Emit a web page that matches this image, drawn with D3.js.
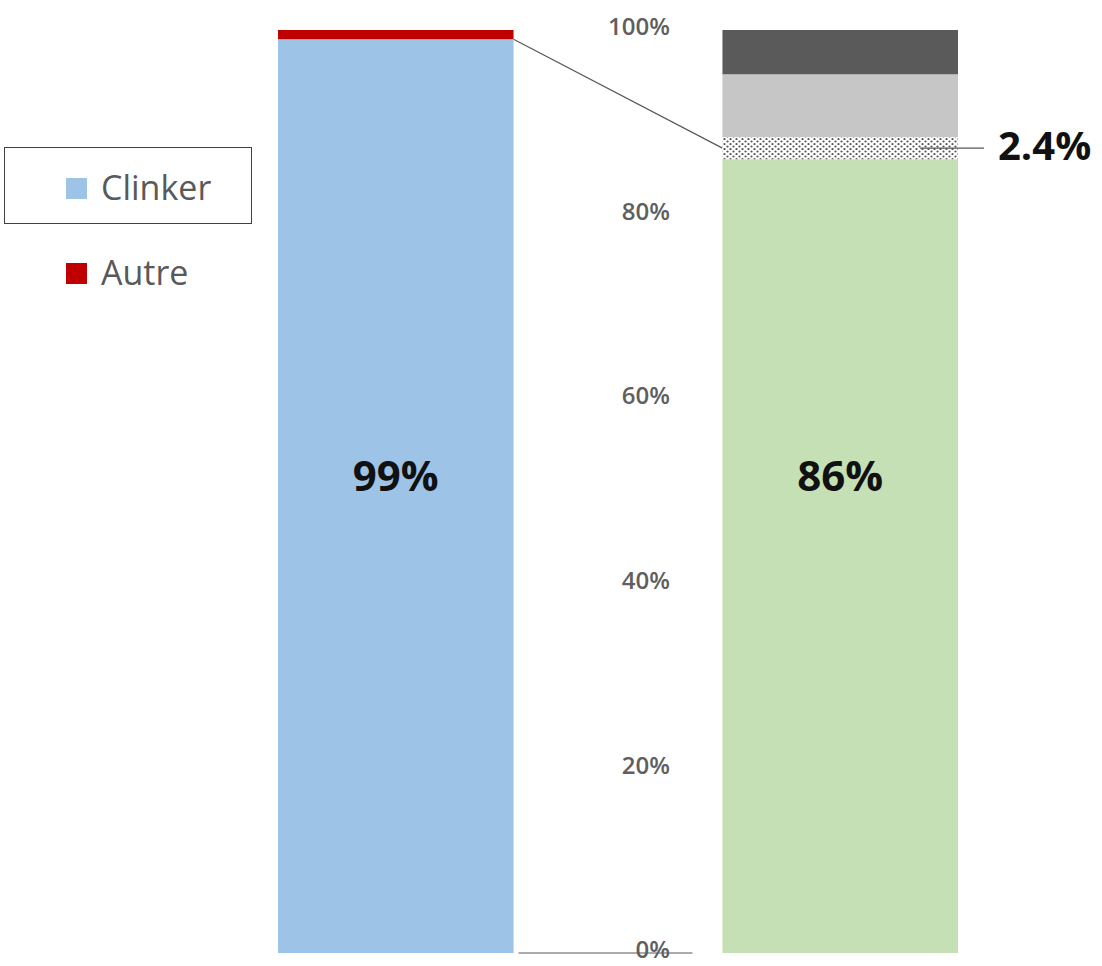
<!DOCTYPE html>
<html>
  <head>
    <meta charset="utf-8">
    <title>Clinker</title>
    <script src="https://cdn.jsdelivr.net/npm/d3@7"></script>
    <style>
      body { margin: 0; background: #fff; }
      text { font-family: "Open Sans", sans-serif; }
      .tick text { font-size: 24px; font-weight: 600; fill: #5f5f5f; }
      .legend text { font-size: 34px; fill: #595959; }
      .barLabel { font-size: 42px; font-weight: bold; fill: #111; }
    </style>
  </head>
  <body>
    <svg id="chart" width="1102" height="966"></svg>
    <script>
      // data
      var bars = ["Ciment A", "Ciment B"];
      var leftNames = ["Clinker", "Autre"];
      var leftValues = [99, 1];
      var rightNames = ["Clinker", "Autre", "Ajout 1", "Ajout 2"];
      var rightValues = [86, 2.4, 6.8, 4.8];
      var yTicks = [0, 20, 40, 60, 80, 100];
      var legendNames = ["Clinker", "Autre"];

      var svg = d3.select("#chart");
      var defs = svg.append("defs");
      var dots = defs.append("pattern")
        .attr("id", "dots")
        .attr("width", 6).attr("height", 5)
        .attr("patternUnits", "userSpaceOnUse");
      dots.append("rect").attr("width", 6).attr("height", 5).attr("fill", "#fff");
      dots.append("circle").attr("cx", 1.5).attr("cy", 1.5).attr("r", 1.1).attr("fill", "#555");
      dots.append("circle").attr("cx", 4.5).attr("cy", 4).attr("r", 1.1).attr("fill", "#555");

      var colors = {
        "Ciment A": ["#9dc3e6", "#c00000"],
        "Ciment B": ["#c5e0b4", "url(#dots)", "#c6c6c6", "#5a5a5a"]
      };

      var x = d3.scaleBand().domain(bars).range([278, 958]).paddingInner(0.47);
      var y = d3.scaleLinear().domain([0, 100]).range([953, 30]);

      function stackUp(names, values) {
        var acc = 0;
        return values.map(function(v, i) {
          var d = { name: names[i], y0: acc, y1: acc + v, value: v };
          acc += v;
          return d;
        });
      }
      var stacks = {
        "Ciment A": stackUp(leftNames, leftValues),
        "Ciment B": stackUp(rightNames, rightValues)
      };

      // connectors
      var a = stacks["Ciment A"], b = stacks["Ciment B"];
      var lines = svg.append("g").attr("stroke", "#595959").attr("stroke-width", 1.2);
      lines.append("line")
        .attr("x1", x("Ciment A") + x.bandwidth()).attr("y1", y(a[1].y0))
        .attr("x2", x("Ciment B")).attr("y2", y((b[1].y0 + b[1].y1) / 2));
      lines.append("line")
        .attr("x1", x("Ciment A") + x.bandwidth() + 5).attr("y1", y(0))
        .attr("x2", x("Ciment B") - 30).attr("y2", y(0));

      // bars
      bars.forEach(function(bar) {
        svg.append("g").selectAll("rect")
          .data(stacks[bar])
          .enter().append("rect")
            .attr("x", x(bar))
            .attr("width", x.bandwidth())
            .attr("y", function(d) { return y(d.y1); })
            .attr("height", function(d) { return y(d.y0) - y(d.y1); })
            .attr("fill", function(d, i) { return colors[bar][i]; });
        svg.append("text")
          .attr("class", "barLabel")
          .attr("x", x(bar) + x.bandwidth() / 2)
          .attr("y", y(50) - 1)
          .attr("text-anchor", "middle")
          .text(stacks[bar][0].value + "%");
      });

      // leader for the 2.4% label
      var mid = y((b[1].y0 + b[1].y1) / 2);
      svg.append("line")
        .attr("stroke", "#595959").attr("stroke-width", 1.2)
        .attr("x1", x("Ciment B") + x.bandwidth() - 38).attr("y1", mid)
        .attr("x2", x("Ciment B") + x.bandwidth() + 26).attr("y2", mid);
      svg.append("text")
        .attr("class", "barLabel")
        .attr("x", 998).attr("y", mid + 12)
        .style("font-size", "40px")
        .text(b[1].value.toFixed(1) + "%");

      // axis
      var yAxis = d3.axisLeft(y)
        .tickValues(yTicks)
        .tickSize(0)
        .tickFormat(function(d) { return d + "%"; });
      var axisG = svg.append("g")
        .attr("transform", "translate(670, 0)")
        .call(yAxis);
      axisG.select(".domain").remove();
      axisG.selectAll(".tick text").attr("x", 0).attr("y", -3).attr("dy", "0.32em");

      // legend
      var legend = svg.append("g").attr("class", "legend");
      legend.append("rect")
        .attr("x", 4.5).attr("y", 147.5).attr("width", 247).attr("height", 76)
        .attr("fill", "none").attr("stroke", "#404040");
      var item = legend.selectAll(".item")
        .data(legendNames)
        .enter().append("g")
          .attr("class", "item")
          .attr("transform", function(d, i) { return "translate(0," + (188 + i * 85) + ")"; });
      item.append("rect")
        .attr("x", 66).attr("y", -10).attr("width", 21).attr("height", 21)
        .attr("fill", function(d, i) { return colors["Ciment A"][i]; });
      item.append("text")
        .attr("x", 101).attr("dy", "0.35em")
        .text(function(d) { return d; });
    </script>
  </body>
</html>
